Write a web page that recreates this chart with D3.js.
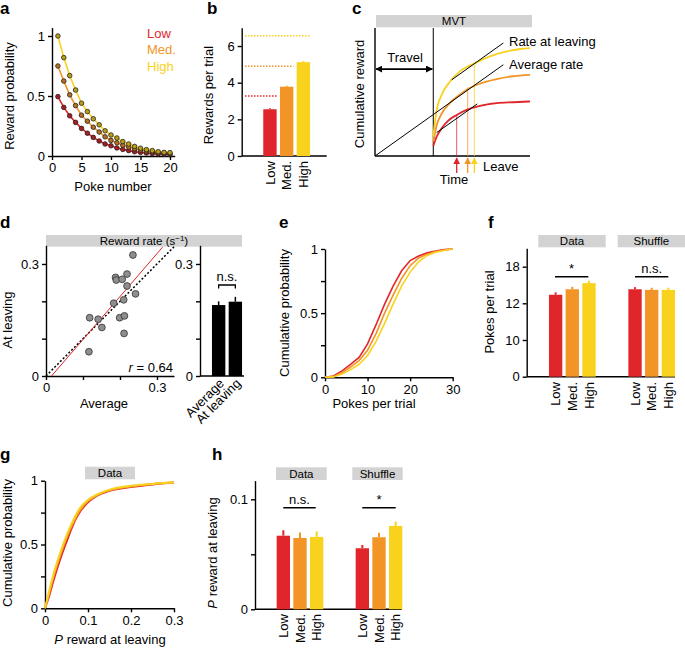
<!DOCTYPE html>
<html><head><meta charset="utf-8">
<script src="https://cdn.jsdelivr.net/npm/d3@7"></script>
<style>
body{margin:0;background:#fff;}
</style></head><body>
<svg id="fig" width="685" height="648"></svg>
<script>
// ---------------- DATA ----------------
const levels = ["Low", "Med.", "High"];
const levelColors = ["#e0262b", "#f29426", "#f8d21c"];

// a: reward probability per poke
const pokeNumber = [1,2,3,4,5,6,7,8,9,10,11,12,13,14,15,16,17,18,19,20];
const probLow  = [0.495,0.405,0.335,0.28,0.23,0.19,0.155,0.125,0.10,0.085,0.067,0.055,0.045,0.036,0.03,0.025,0.02,0.017,0.014,0.012];
const probMed  = [0.75,0.625,0.51,0.42,0.34,0.29,0.24,0.20,0.16,0.13,0.11,0.09,0.075,0.06,0.05,0.042,0.035,0.028,0.025,0.02];
const probHigh = [1.0,0.82,0.67,0.55,0.44,0.37,0.31,0.26,0.21,0.175,0.15,0.12,0.10,0.08,0.065,0.053,0.045,0.036,0.03,0.028];

// b: rewards per trial
const rewardsPerTrial = [2.55, 3.78, 5.12];
const rewardsErr = [0.05, 0.05, 0.06];
const rewardsOptimal = [3.27, 4.9, 6.56];

// c: MVT schematic (time, cumulative reward) in arbitrary units
const travelEnd = 37.6;
const schemLow  = [[37.6,7.8],[39.8,15.1],[43,21.7],[47.3,27.7],[52.7,32.1],[59.1,36],[67.7,39.2],[78.5,41.3],[89.2,42],[100,42.6]];
const schemMed  = [[37.6,11],[39.8,24],[43,33],[48.4,41.5],[54.8,48],[60.2,52.5],[67.7,56.5],[78.5,60],[89.2,62.3],[100,63.4]];
const schemHigh = [[37.6,15.1],[39.8,36],[43,47.8],[48.4,58.2],[54.8,66.1],[64.5,72.6],[74.2,77.8],[84.9,81.7],[93.5,83.6],[100,84.3]];
const avgRateLine = [[0,0],[82.8,71.3]];
const leaveRateLine = [[49.5,59.5],[82.8,88.3]];
const lowTangent = [[39.8,18.3],[66,40.7]];
const leaveTimes = [52.7, 59.8, 64.1];
const leaveRewards = [32.1, 53.5, 72.6];

// d: reward rate scatter
const rateAverage = [0.235,0.188,0.19,0.206,0.219,0.219,0.242,0.21,0.183,0.118,0.141,0.151,0.199,0.212,0.211,0.116];
const rateLeaving = [0.324,0.264,0.257,0.259,0.273,0.241,0.22,0.204,0.195,0.156,0.152,0.130,0.156,0.161,0.114,0.065];
const fitLine = [[0.015,0],[0.315,0.345]];
const unityLine = [[0,0],[0.346,0.346]];
const rateBarLabels = ["Average", "At leaving"];
const rateBarValues = [0.19, 0.199];
const rateBarErr = [0.01, 0.013];

// e: cumulative probability of pokes per trial
const pokesX = [0,2,4,6,8,10,12,14,16,18,20,22,24,26,28,30];
const cdfPokesLow  = [0,0.01,0.05,0.10,0.155,0.26,0.41,0.57,0.71,0.83,0.91,0.945,0.97,0.985,0.995,1];
const cdfPokesMed  = [0,0.005,0.035,0.08,0.13,0.21,0.34,0.50,0.64,0.77,0.87,0.93,0.96,0.98,0.99,1];
const cdfPokesHigh = [0,0.003,0.025,0.06,0.10,0.17,0.28,0.42,0.57,0.71,0.82,0.90,0.95,0.975,0.99,1];

// f: pokes per trial
const fTicks = [0, 10, 12, 18];
const pokesData = [13.4, 14.3, 15.3];
const pokesDataErr = [0.4, 0.4, 0.4];
const pokesShuffle = [14.3, 14.2, 14.2];
const pokesShuffleErr = [0.35, 0.35, 0.35];

// g: cumulative probability of P reward at leaving
const pLeaveX = [0,0.01,0.02,0.03,0.04,0.05,0.06,0.07,0.08,0.1,0.12,0.15,0.2,0.25,0.3];
const cdfPLow  = [0,0.10,0.22,0.33,0.43,0.52,0.61,0.69,0.75,0.83,0.88,0.92,0.95,0.97,0.985];
const cdfPMed  = [0,0.12,0.25,0.36,0.46,0.55,0.63,0.70,0.76,0.84,0.885,0.925,0.955,0.975,0.985];
const cdfPHigh = [0,0.14,0.27,0.38,0.48,0.57,0.65,0.72,0.78,0.85,0.89,0.93,0.96,0.975,0.985];

// h: P reward at leaving
const pRewardData = [0.0669, 0.0648, 0.0658];
const pRewardDataErr = [0.005, 0.005, 0.005];
const pRewardShuffle = [0.0555, 0.0655, 0.0758];
const pRewardShuffleErr = [0.003, 0.004, 0.004];

// ---------------- DRAW ----------------
const FONT = "'Liberation Sans', Arial, Helvetica, sans-serif";
const FS = 13;
const svg = d3.select("#fig").attr("font-family", FONT);

function fmtAxis(g) {
  g.attr("font-family", FONT).attr("font-size", FS);
  g.selectAll(".domain, .tick line").attr("stroke", "#000").attr("stroke-width", 1.4);
  g.selectAll(".tick text").attr("fill", "#000");
}
function letter(t, x, y) {
  svg.append("text").attr("x", x).attr("y", y).attr("font-size", 17).attr("font-weight", "bold").text(t);
}
function hline(g, x1, x2, y) {
  g.append("line").attr("x1", x1).attr("x2", x2).attr("y1", y).attr("y2", y).attr("stroke", "#000").attr("stroke-width", 1.4);
}
function vLabel(g, text, x, y) {
  return g.append("text").attr("transform", `translate(${x},${y}) rotate(-90)`).attr("text-anchor", "middle").attr("font-size", FS).text(text);
}
function header(g, text, x1, x2, y1, y2) {
  g.append("rect").attr("x", x1).attr("y", y1).attr("width", x2 - x1).attr("height", y2 - y1).attr("fill", "#d3d3d3");
  return g.append("text").attr("x", (x1 + x2) / 2).attr("y", (y1 + y2) / 2).attr("dy", "0.35em").attr("text-anchor", "middle").attr("font-size", 11.5).text(text);
}
function rotLabels(g, band, labels, y) {
  g.selectAll(null).data(labels).join("text")
    .attr("transform", d => `translate(${band(d) + band.bandwidth() / 2},${y}) rotate(-90)`)
    .attr("text-anchor", "end").attr("dy", "0.35em").attr("font-size", FS).text(d => d);
}
function bars(g, band, y, vals, errs, colors) {
  const d = levels.map((l, i) => ({ l, v: vals[i], e: errs[i], c: colors[i] }));
  g.selectAll(null).data(d).join("line")
    .attr("x1", k => band(k.l) + band.bandwidth() / 2).attr("x2", k => band(k.l) + band.bandwidth() / 2)
    .attr("y1", k => y(k.v)).attr("y2", k => y(k.v + k.e))
    .attr("stroke", k => k.c).attr("stroke-width", 2);
  g.selectAll(null).data(d).join("rect")
    .attr("x", k => band(k.l)).attr("width", band.bandwidth())
    .attr("y", k => y(k.v)).attr("height", k => y.range()[0] - y(k.v))
    .attr("fill", k => k.c);
}
function sig(g, text, x1, x2, y) {
  hline(g, x1, x2, y);
  g.append("text").attr("x", (x1 + x2) / 2).attr("y", y - 4).attr("text-anchor", "middle").attr("font-size", FS).text(text);
}

// ---- Panel a ----
{
  const g = svg.append("g");
  letter("a", 0, 14);
  const x = d3.scaleLinear().domain([0, 20.8]).range([52, 174.7]);
  const y = d3.scaleLinear().domain([0, 1.07]).range([156, 27.6]);
  g.append("g").attr("transform", "translate(0,156)")
    .call(d3.axisBottom(x).tickValues([0, 5, 10, 15, 20]).tickSize(4).tickSizeOuter(0)).call(fmtAxis);
  g.append("g").attr("transform", "translate(52,0)")
    .call(d3.axisLeft(y).tickValues([0, 0.5, 1]).tickFormat(d3.format("~g")).tickSize(4).tickSizeOuter(0)).call(fmtAxis);
  const series = [probLow, probMed, probHigh];
  const line = d3.line().x((d, i) => x(pokeNumber[i])).y(d => y(d));
  series.forEach((s, k) => {
    g.append("path").datum(s).attr("d", line).attr("fill", "none").attr("stroke", levelColors[k]).attr("stroke-width", 1.6);
  });
  series.forEach((s, k) => {
    g.selectAll(null).data(s).join("circle")
      .attr("cx", (d, i) => x(pokeNumber[i])).attr("cy", d => y(d)).attr("r", 2.3)
      .attr("fill", d3.color(levelColors[k]).darker(0.8)).attr("stroke", "#222").attr("stroke-width", 0.8);
  });
  levels.forEach((l, k) => {
    g.append("text").attr("x", 147).attr("y", 37.5 + k * 16.6).attr("font-size", FS).attr("fill", levelColors[k]).text(l);
  });
  vLabel(g, "Reward probability", 14, 96);
  g.append("text").attr("x", 113).attr("y", 191).attr("text-anchor", "middle").attr("font-size", FS).text("Poke number");
}

// ---- Panel b ----
{
  const g = svg.append("g");
  letter("b", 207, 14);
  const y = d3.scaleLinear().domain([0, 7]).range([156, 27.7]);
  const xb = d3.scaleBand().domain(levels).range([261.6, 311.7]).paddingInner(0.2).paddingOuter(0.1);
  g.append("g").attr("transform", "translate(241.7,0)")
    .call(d3.axisLeft(y).tickValues([0, 2, 4, 6]).tickFormat(d3.format("d")).tickSize(4).tickSizeOuter(0)).call(fmtAxis);
  hline(g, 241.7, 326.7, 156);
  bars(g, xb, y, rewardsPerTrial, rewardsErr, levelColors);
  levels.forEach((l, k) => {
    g.append("line").attr("x1", 245).attr("x2", xb(l) + xb.bandwidth())
      .attr("y1", y(rewardsOptimal[k])).attr("y2", y(rewardsOptimal[k]))
      .attr("stroke", levelColors[k]).attr("stroke-width", 1.5).attr("stroke-dasharray", "1.5,1.5");
  });
  rotLabels(g, xb, levels, 161);
  vLabel(g, "Rewards per trial", 213, 95);
}

// ---- Panel c ----
{
  const g = svg.append("g");
  letter("c", 352, 14);
  const x = d3.scaleLinear().domain([0, 100]).range([375, 530]);
  const y = d3.scaleLinear().domain([0, 100]).range([156, 28]);
  header(g, "MVT", 376, 532, 15, 27.3);
  g.append("line").attr("x1", x(0)).attr("x2", x(0)).attr("y1", y(100)).attr("y2", y(0)).attr("stroke", "#000").attr("stroke-width", 1.4);
  hline(g, x(0), x(100), y(0));
  g.append("line").attr("x1", x(travelEnd)).attr("x2", x(travelEnd)).attr("y1", y(100)).attr("y2", y(0)).attr("stroke", "#000").attr("stroke-width", 1);
  const defs = svg.append("defs");
  const mk = (id, color) => defs.append("marker").attr("id", id).attr("viewBox", "0 0 10 10").attr("refX", 9).attr("refY", 5)
    .attr("markerWidth", 7).attr("markerHeight", 7).attr("markerUnits", "userSpaceOnUse").attr("orient", "auto-start-reverse")
    .append("path").attr("d", "M0,0L10,5L0,10z").attr("fill", color);
  mk("ahBlack", "#000");
  levelColors.forEach((c, k) => mk("ah" + k, c));
  // travel arrow
  g.append("line").attr("x1", x(0) + 1).attr("x2", x(travelEnd) - 1).attr("y1", y(67.9)).attr("y2", y(67.9))
    .attr("stroke", "#000").attr("stroke-width", 1.8).attr("marker-start", "url(#ahBlack)").attr("marker-end", "url(#ahBlack)");
  g.append("text").attr("x", 405).attr("y", 61.5).attr("text-anchor", "middle").attr("font-size", FS).text("Travel");
  // leave verticals
  leaveTimes.forEach((t, k) => {
    g.append("line").attr("x1", x(t)).attr("x2", x(t)).attr("y1", y(leaveRewards[k])).attr("y2", y(0))
      .attr("stroke", levelColors[k]).attr("stroke-width", 1).attr("opacity", 0.75);
    g.append("line").attr("x1", x(t)).attr("x2", x(t)).attr("y1", 173).attr("y2", 158)
      .attr("stroke", levelColors[k]).attr("stroke-width", 1.3).attr("marker-end", `url(#ah${k})`);
  });
  const line = d3.line().x(d => x(d[0])).y(d => y(d[1]));
  const curve = d3.line().x(d => x(d[0])).y(d => y(d[1])).curve(d3.curveMonotoneX);
  [schemLow, schemMed, schemHigh].forEach((s, k) => {
    g.append("path").datum(s).attr("d", curve).attr("fill", "none").attr("stroke", levelColors[k]).attr("stroke-width", 1.8);
  });
  [avgRateLine, leaveRateLine, lowTangent].forEach(s => {
    g.append("path").datum(s).attr("d", line).attr("fill", "none").attr("stroke", "#000").attr("stroke-width", 1);
  });
  g.append("text").attr("x", 509).attr("y", 45.5).attr("font-size", FS).text("Rate at leaving");
  g.append("text").attr("x", 509).attr("y", 68.5).attr("font-size", FS).text("Average rate");
  g.append("text").attr("x", 483).attr("y", 170.5).attr("font-size", FS).text("Leave");
  g.append("text").attr("x", 454).attr("y", 183.5).attr("text-anchor", "middle").attr("font-size", FS).text("Time");
  vLabel(g, "Cumulative reward", 364, 94);
}

// ---- Panel d ----
{
  const g = svg.append("g");
  letter("d", 0, 228);
  const ht = header(g, "", 46, 242, 235, 246.7);
  ht.text("Reward rate (s").append("tspan").attr("font-size", 8).attr("dy", -4).text("\u22121");
  ht.append("tspan").attr("dy", 4).text(")");
  const x = d3.scaleLinear().domain([0, 0.346]).range([46, 174]);
  const y = d3.scaleLinear().domain([0, 0.35]).range([376, 245.3]);
  const fmt03 = d => (d === 0 ? "0" : d === 0.3 ? "0.3" : "");
  g.append("g").attr("transform", "translate(0,376)")
    .call(d3.axisBottom(x).tickValues([0, 0.1, 0.2, 0.3]).tickFormat(fmt03).tickSize(4).tickSizeOuter(0)).call(fmtAxis);
  g.append("g").attr("transform", "translate(46,0)")
    .call(d3.axisLeft(y).tickValues([0, 0.1, 0.2, 0.3]).tickFormat(fmt03).tickSize(4).tickSizeOuter(0)).call(fmtAxis);
  const line = d3.line().x(d => x(d[0])).y(d => y(d[1]));
  g.append("path").datum(unityLine).attr("d", line).attr("stroke", "#000").attr("stroke-width", 1.5).attr("stroke-dasharray", "2,2").attr("fill", "none");
  g.append("path").datum(fitLine).attr("d", line).attr("stroke", "#e0262b").attr("stroke-width", 1).attr("fill", "none");
  g.selectAll(null).data(rateAverage).join("circle")
    .attr("cx", d => x(d)).attr("cy", (d, i) => y(rateLeaving[i])).attr("r", 3.4)
    .attr("fill", "#8e8e8e").attr("stroke", "#333").attr("stroke-width", 0.8);
  const rt = g.append("text").attr("x", 173).attr("y", 371.5).attr("text-anchor", "end").attr("font-size", FS);
  rt.append("tspan").attr("font-style", "italic").text("r");
  rt.append("tspan").text(" = 0.64");
  vLabel(g, "At leaving", 12, 320);
  g.append("text").attr("x", 104).attr("y", 408).attr("text-anchor", "middle").attr("font-size", FS).text("Average");
  // bars
  const xb = d3.scaleBand().domain(rateBarLabels).range([210.3, 243.7]).paddingInner(0.2).paddingOuter(0.1);
  g.append("g").attr("transform", "translate(200,0)")
    .call(d3.axisLeft(y).tickValues([0, 0.1, 0.2, 0.3]).tickFormat(fmt03).tickSize(4).tickSizeOuter(0)).call(fmtAxis);
  hline(g, 200, 244, 376);
  rateBarLabels.forEach((l, i) => {
    const cx = xb(l) + xb.bandwidth() / 2;
    g.append("line").attr("x1", cx).attr("x2", cx).attr("y1", y(rateBarValues[i])).attr("y2", y(rateBarValues[i] + rateBarErr[i])).attr("stroke", "#000").attr("stroke-width", 1.5);
    g.append("rect").attr("x", xb(l)).attr("width", xb.bandwidth()).attr("y", y(rateBarValues[i])).attr("height", 376 - y(rateBarValues[i])).attr("fill", "#000");
    g.append("text").attr("transform", `translate(${cx + 3},${381}) rotate(-45)`).attr("text-anchor", "end").attr("dy", "0.35em").attr("font-size", FS).text(l);
  });
  const c1 = xb(rateBarLabels[0]) + xb.bandwidth() / 2, c2 = xb(rateBarLabels[1]) + xb.bandwidth() / 2;
  g.append("path").attr("d", `M${c1},288.5V285H${c2}V288.5`).attr("fill", "none").attr("stroke", "#000").attr("stroke-width", 1.3);
  g.append("text").attr("x", (c1 + c2) / 2).attr("y", 281).attr("text-anchor", "middle").attr("font-size", FS).text("n.s.");
}

// ---- Panel e ----
{
  const g = svg.append("g");
  letter("e", 279, 228);
  const x = d3.scaleLinear().domain([0, 30]).range([325, 452.7]);
  const y = d3.scaleLinear().domain([0, 1]).range([377.3, 249]);
  g.append("g").attr("transform", "translate(0,377.3)")
    .call(d3.axisBottom(x).tickValues([0, 10, 20, 30]).tickSize(4).tickSizeOuter(0)).call(fmtAxis);
  g.append("g").attr("transform", "translate(325,0)")
    .call(d3.axisLeft(y).tickValues([0, 0.25, 0.5, 0.75, 1]).tickFormat(d => (d === 0.25 || d === 0.75) ? "" : d3.format("~g")(d)).tickSize(4).tickSizeOuter(0)).call(fmtAxis);
  const line = d3.line().x((d, i) => x(pokesX[i])).y(d => y(d));
  [cdfPokesLow, cdfPokesMed, cdfPokesHigh].forEach((s, k) => {
    g.append("path").datum(s).attr("d", line).attr("fill", "none").attr("stroke", levelColors[k]).attr("stroke-width", 1.6);
  });
  vLabel(g, "Cumulative probability", 289, 313);
  g.append("text").attr("x", 374).attr("y", 408).attr("text-anchor", "middle").attr("font-size", FS).text("Pokes per trial");
}

// ---- Panel f ----
{
  const g = svg.append("g");
  letter("f", 488, 228);
  const y = d3.scaleLinear().domain([0, 10, 12, 18, 21]).range([376.7, 340, 303.3, 266.7, 248.3]);
  g.append("g").attr("transform", "translate(526.7,0)")
    .call(d3.axisLeft(y).tickValues(fTicks).tickFormat(d3.format("d")).tickSize(4).tickSizeOuter(0)).call(fmtAxis);
  hline(g, 526.7, 675, 376.7);
  const xd = d3.scaleBand().domain(levels).range([547.3, 597.3]).paddingInner(0.2).paddingOuter(0.1);
  const xs = d3.scaleBand().domain(levels).range([626.7, 676.7]).paddingInner(0.2).paddingOuter(0.1);
  header(g, "Data", 538.3, 605.7, 235, 247.3);
  header(g, "Shuffle", 617.7, 685, 235, 247.3);
  bars(g, xd, y, pokesData, pokesDataErr, levelColors);
  bars(g, xs, y, pokesShuffle, pokesShuffleErr, levelColors);
  sig(g, "*", 555, 588.3, 276.7);
  sig(g, "n.s.", 635, 668.3, 276.7);
  rotLabels(g, xd, levels, 382);
  rotLabels(g, xs, levels, 382);
  vLabel(g, "Pokes per trial", 494, 312);
}

// ---- Panel g ----
{
  const g = svg.append("g");
  letter("g", 0, 460);
  const x = d3.scaleLinear().domain([0, 0.3]).range([45, 174]);
  const y = d3.scaleLinear().domain([0, 1]).range([608.3, 480.7]);
  header(g, "Data", 85, 135, 466.7, 479.3);
  g.append("g").attr("transform", "translate(0,608.3)")
    .call(d3.axisBottom(x).tickValues([0, 0.1, 0.2, 0.3]).tickFormat(d3.format("~g")).tickSize(4).tickSizeOuter(0)).call(fmtAxis);
  g.append("g").attr("transform", "translate(45,0)")
    .call(d3.axisLeft(y).tickValues([0, 0.25, 0.5, 0.75, 1]).tickFormat(d => (d === 0.25 || d === 0.75) ? "" : d3.format("~g")(d)).tickSize(4).tickSizeOuter(0)).call(fmtAxis);
  const line = d3.line().x((d, i) => x(pLeaveX[i])).y(d => y(d)).curve(d3.curveMonotoneX);
  [cdfPLow, cdfPMed, cdfPHigh].forEach((s, k) => {
    g.append("path").datum(s).attr("d", line).attr("fill", "none").attr("stroke", levelColors[k]).attr("stroke-width", 2);
  });
  vLabel(g, "Cumulative probability", 12, 543);
  const xl = g.append("text").attr("x", 110).attr("y", 644).attr("text-anchor", "middle").attr("font-size", FS);
  xl.append("tspan").attr("font-style", "italic").text("P");
  xl.append("tspan").text(" reward at leaving");
}

// ---- Panel h ----
{
  const g = svg.append("g");
  letter("h", 212, 460);
  const y = d3.scaleLinear().domain([0, 0.117]).range([609.3, 480.6]);
  g.append("g").attr("transform", "translate(255,0)")
    .call(d3.axisLeft(y).tickValues([0, 0.05, 0.1]).tickFormat(d => d === 0.05 ? "" : d3.format("~g")(d)).tickSize(4).tickSizeOuter(0)).call(fmtAxis);
  hline(g, 255, 401.7, 609.3);
  const xd = d3.scaleBand().domain(levels).range([275, 325]).paddingInner(0.2).paddingOuter(0.1);
  const xs = d3.scaleBand().domain(levels).range([354, 404]).paddingInner(0.2).paddingOuter(0.1);
  header(g, "Data", 276, 326.7, 467.3, 480);
  header(g, "Shuffle", 352.3, 402.7, 467.3, 480);
  bars(g, xd, y, pRewardData, pRewardDataErr, levelColors);
  bars(g, xs, y, pRewardShuffle, pRewardShuffleErr, levelColors);
  sig(g, "n.s.", 283.3, 315.7, 507.7);
  sig(g, "*", 362.3, 395.7, 507.7);
  rotLabels(g, xd, levels, 614);
  rotLabels(g, xs, levels, 614);
  const yl = g.append("text").attr("transform", "translate(217,553) rotate(-90)").attr("text-anchor", "middle").attr("font-size", FS);
  yl.append("tspan").attr("font-style", "italic").text("P");
  yl.append("tspan").text(" reward at leaving");
}
</script></body></html>
